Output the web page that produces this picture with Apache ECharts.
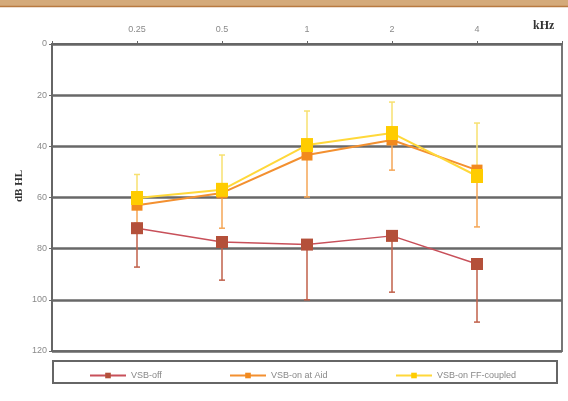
<!DOCTYPE html>
<html>
<head>
<meta charset="utf-8">
<script src="https://cdn.jsdelivr.net/npm/echarts@6/dist/echarts.min.js"></script>
<style>
  html, body { margin: 0; padding: 0; background: #fff; }
  #chart { width: 568px; height: 401px; }
</style>
</head>
<body>
<div id="chart"></div>
<script>
// frequencies (kHz) - empty slots at both ends leave room like the original
var freqLabels = ['', '0.25', '0.5', '1', '2', '4', ''];
var freqIdx = [1, 2, 3, 4, 5];
var yTicks = [0, 20, 40, 60, 80, 100, 120];

// mean thresholds (dB HL)
var vsbOff = [72, 77.4, 78.4, 75, 86];
var vsbOnAid = [63, 58.2, 43.4, 37.5, 49.3];
var vsbOnFF = [60.2, 57, 39.5, 34.8, 51.6];

// end of the error bars
var vsbOffBarEnd = [87.2, 92.3, 100, 97, 108.7];   // downwards
var vsbOnAidBarEnd = [70, 72, 59.8, 49.3, 71.5];   // downwards
var vsbOnFFBarEnd = [51, 43.4, 26.2, 22.7, 30.9];  // upwards

var seriesNames = ['VSB-off', 'VSB-on at Aid', 'VSB-on FF-coupled'];

function pairs(vals) {
    var out = [];
    for (var i = 0; i < vals.length; i++) out.push([freqIdx[i], vals[i]]);
    return out;
}
function barData(mean, end) {
    var out = [];
    for (var i = 0; i < mean.length; i++) out.push([freqIdx[i], mean[i], end[i]]);
    return out;
}
function errorBar(color) {
    return function (params, api) {
        var x = api.value(0);
        var p1 = api.coord([x, api.value(1)]);
        var p2 = api.coord([x, api.value(2)]);
        return {
            type: 'group',
            children: [
                { type: 'line', shape: { x1: p1[0], y1: p1[1], x2: p2[0], y2: p2[1] },
                  style: { stroke: color, lineWidth: 1.5 } },
                { type: 'line', shape: { x1: p2[0] - 3, y1: p2[1], x2: p2[0] + 3, y2: p2[1] },
                  style: { stroke: color, lineWidth: 1.5 } }
            ]
        };
    };
}

var chart = echarts.init(document.getElementById('chart'));
var option = {
    backgroundColor: '#fff',
    animation: false,
    grid: { left: 52, right: 6, top: 44, bottom: 50, show: true, borderColor: '#777', borderWidth: 2 },
    xAxis: {
        type: 'category',
        position: 'top',
        data: freqLabels,
        boundaryGap: false,
        axisLine: { lineStyle: { color: '#666', width: 2 } },
        axisTick: { show: true, length: 3, inside: false, lineStyle: { color: '#666' } },
        axisLabel: { color: '#8a8a8a', fontSize: 9, margin: 10, fontFamily: 'Liberation Sans' },
        splitLine: { show: false }
    },
    yAxis: {
        type: 'value',
        inverse: true,
        min: yTicks[0],
        max: yTicks[yTicks.length - 1],
        interval: 20,
        axisLine: { show: true, lineStyle: { color: '#666', width: 2 } },
        axisTick: { show: true, length: 3, lineStyle: { color: '#666' } },
        axisLabel: { color: '#8a8a8a', fontSize: 9, margin: 5, fontFamily: 'Liberation Sans' },
        splitLine: { show: true, lineStyle: { color: '#686868', width: 2.5 } }
    },
    legend: [
        { data: [seriesNames[0]], left: 84, top: 366, itemWidth: 36, itemHeight: 7, itemGap: 2,
          textStyle: { color: '#888', fontSize: 9 } },
        { data: [seriesNames[1]], left: 224, top: 366, itemWidth: 36, itemHeight: 7, itemGap: 2,
          textStyle: { color: '#888', fontSize: 9 } },
        { data: [seriesNames[2]], left: 390, top: 366, itemWidth: 36, itemHeight: 7, itemGap: 2,
          textStyle: { color: '#888', fontSize: 9 } }
    ],
    graphic: [
        { type: 'rect', shape: { x: 0, y: 0, width: 568, height: 6 }, style: { fill: '#d4aa7a' } },
        { type: 'line', shape: { x1: 0, y1: 6.5, x2: 568, y2: 6.5 }, style: { stroke: '#b87a40', lineWidth: 1.5 } },
        { type: 'rect', shape: { x: 53, y: 361, width: 504, height: 22 },
          style: { fill: 'none', stroke: '#666', lineWidth: 2 } },
        { type: 'text', left: 533, top: 20,
          style: { text: 'kHz', fill: '#333', font: 'bold 12px "Liberation Serif"' } },
        { type: 'text', x: 19, y: 186, rotation: Math.PI / 2, originX: 0, originY: 0,
          style: { text: 'dB HL', fill: '#333', font: 'bold 11px "Liberation Serif"',
                   textAlign: 'center', textVerticalAlign: 'middle' } }
    ],
    series: [
        { type: 'custom', renderItem: errorBar('#c0604a'), data: barData(vsbOff, vsbOffBarEnd), z: 2, silent: true },
        { type: 'custom', renderItem: errorBar('#f5a656'), data: barData(vsbOnAid, vsbOnAidBarEnd), z: 2, silent: true },
        { type: 'custom', renderItem: errorBar('#f7e070'), data: barData(vsbOnFF, vsbOnFFBarEnd), z: 2, silent: true },
        { name: seriesNames[0], type: 'line', data: pairs(vsbOff), z: 3,
          symbol: 'rect', symbolSize: 12,
          itemStyle: { color: '#b4503a' }, lineStyle: { color: '#c8505a', width: 1.5 } },
        { name: seriesNames[1], type: 'line', data: pairs(vsbOnAid), z: 4,
          symbol: 'rect', symbolSize: 11,
          itemStyle: { color: '#f28a1e' }, lineStyle: { color: '#f39030', width: 2 } },
        { name: seriesNames[2], type: 'line', data: pairs(vsbOnFF), z: 5,
          symbol: 'rect', symbolSize: [12, 14],
          itemStyle: { color: '#ffcc00' }, lineStyle: { color: '#ffd83a', width: 2 } }
    ]
};
chart.setOption(option);
</script>
</body>
</html>
